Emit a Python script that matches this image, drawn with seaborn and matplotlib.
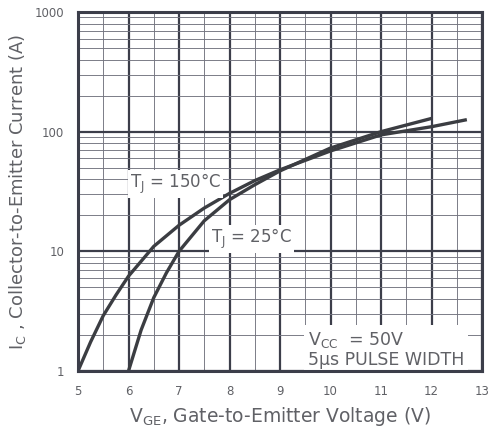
import matplotlib
matplotlib.use("Agg")
import matplotlib.pyplot as plt
import seaborn as sns
import pandas as pd
from matplotlib.ticker import FixedLocator, NullFormatter

# ---- data ----
vge_150 = [5.0, 5.25, 5.5, 5.75, 6.0, 6.5, 7.0, 7.5, 8.0, 8.5, 9.0, 10.0, 11.0, 12.0, 12.7]
ic_150 = [1.0, 1.75, 2.9, 4.3, 6.2, 11.0, 16.5, 23.0, 30.5, 39.0, 48.0, 69.0, 94.0, 110.0, 126.0]
vge_25 = [6.0, 6.25, 6.5, 6.75, 7.0, 7.5, 8.0, 8.5, 9.0, 10.0, 11.0, 12.0]
ic_25 = [1.0, 2.2, 4.1, 6.6, 10.0, 18.0, 27.0, 36.0, 47.0, 73.0, 100.0, 129.0]
x_ticks = [5, 6, 7, 8, 9, 10, 11, 12, 13]
y_ticks = [1, 10, 100, 1000]
y_tick_labels = ["1", "10", "100", "1000"]

df = pd.concat([
    pd.DataFrame({"VGE": vge_150, "IC": ic_150, "TJ": "150"}),
    pd.DataFrame({"VGE": vge_25, "IC": ic_25, "TJ": "25"}),
])

sns.set_theme(style="white")
plt.rcParams["font.family"] = ["DejaVu Sans"]
plt.rcParams["mathtext.fontset"] = "custom"
plt.rcParams["mathtext.rm"] = "DejaVu Sans"

text_c = "#606166"
major_c = "#3c3e4a"
minor_c = "#72747f"
curve_c = "#3b3d42"

fig = plt.figure(figsize=(4.97, 4.29), dpi=100)
ax = fig.add_axes([78 / 497, 58 / 429, 404 / 497, 359 / 429])

ax.set_yscale("log")
ax.set_xlim(5, 13)
ax.set_ylim(1, 1000)

# grid
ax.xaxis.set_major_locator(FixedLocator(x_ticks))
ax.xaxis.set_minor_locator(FixedLocator([v + 0.5 for v in x_ticks[:-1]]))
ax.yaxis.set_major_locator(FixedLocator(y_ticks))
ax.yaxis.set_minor_locator(FixedLocator([m * 10 ** d for d in range(3) for m in range(2, 10)]))
ax.yaxis.set_minor_formatter(NullFormatter())
ax.set_yticklabels(y_tick_labels)
ax.grid(which="major", color=major_c, linewidth=1.6, zorder=0)
ax.grid(which="minor", color=minor_c, linewidth=0.65, zorder=0)
ax.set_axisbelow(True)

sns.lineplot(data=df, x="VGE", y="IC", units="TJ", estimator=None, color=curve_c,
             linewidth=2.4, ax=ax, legend=False, zorder=3)
for ln in ax.lines:
    ln.set_solid_capstyle("butt")
    ln.set_solid_joinstyle("round")

for s in ax.spines.values():
    s.set_visible(True)
    s.set_color(major_c)
    s.set_linewidth(2.2)
    s.set_zorder(5)

ax.tick_params(axis="both", which="both", length=0, labelsize=8.5, colors=text_c, pad=10)
ax.tick_params(axis="x", pad=10)

ax.set_xlabel(r"V$_{\mathrm{GE}}$, Gate-to-Emitter Voltage (V)", fontsize=13.5,
              color=text_c, labelpad=5)
ax.set_ylabel(r"I$_{\mathrm{C}}$ , Collector-to-Emitter Current (A)", fontsize=13,
              color=text_c, labelpad=5)

bbox = dict(facecolor="white", edgecolor="none", pad=1.5)
ax.text(6.02, 36.5, r"T$_{\mathrm{J}}$ = 150°C", fontsize=12, color=text_c,
        va="center", ha="left", bbox=bbox, zorder=4)
ax.text(7.63, 12.6, r"T$_{\mathrm{J}}$ = 25°C", fontsize=12, color=text_c,
        va="center", ha="left", bbox=bbox, zorder=4)
ax.text(9.55, 1.04, "V$_{\\mathrm{CC}}$  = 50V\n5µs PULSE WIDTH", fontsize=12.5,
        color=text_c, va="bottom", ha="left", linespacing=1.05,
        bbox=dict(facecolor="white", edgecolor="none", pad=3), zorder=4)

fig.savefig("out.png", dpi=100, facecolor="white")
